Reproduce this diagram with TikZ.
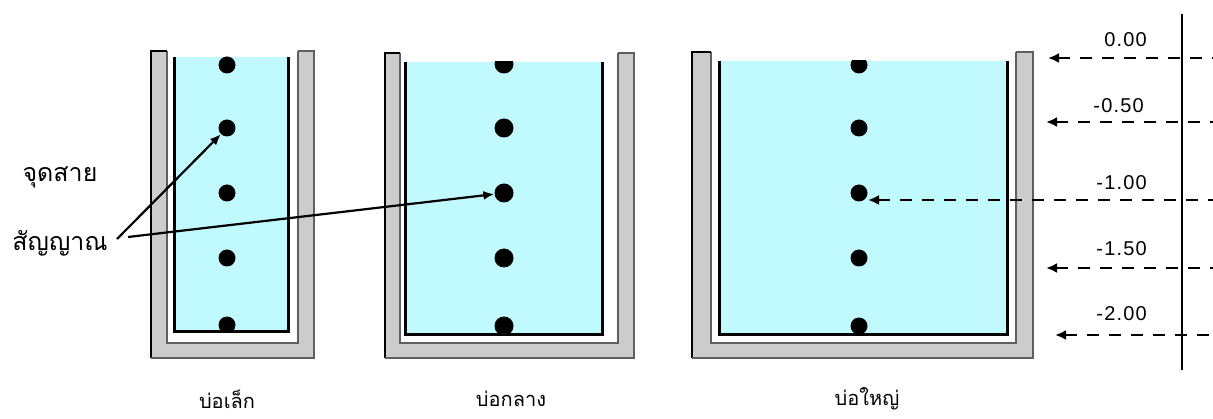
\documentclass[tikz,border=0pt]{standalone}
\usepackage{fontspec}
\setmainfont{Liberation Sans}
\newfontfamily\thaifont[Script=Thai]{Loma}
\usetikzlibrary{arrows.meta}
\definecolor{water}{RGB}{192,250,255}
\definecolor{wallc}{RGB}{204,204,204}
\definecolor{walldark}{RGB}{95,95,95}
\begin{document}
\begin{tikzpicture}[x=1pt,y=-1pt,
  dotn/.style={circle,fill=black,inner sep=0pt,minimum size=17pt},
  bigdot/.style={circle,fill=black,inner sep=0pt,minimum size=19pt},
  lbl/.style={font=\thaifont\fontsize{25}{27}\selectfont,inner sep=0pt},
  tanklbl/.style={font=\thaifont\fontsize{20}{22}\selectfont,inner sep=0pt},
  lvl/.style={font=\addfontfeatures{LetterSpace=6}\fontsize{20}{22}\selectfont,inner sep=0pt,anchor=east},
  arr/.style={line width=2.2pt,-{Latex[length=11pt,width=9pt]}},
  lev/.style={line width=2.4pt,dash pattern=on 12pt off 10pt,{Latex[length=11pt,width=10pt]}-}]
\useasboundingbox (0,0) rectangle (1213,419);
% tanks: L/R/T/B outer, wl/wr/wb wall inner, cl/cr/cb container, wt water top
\foreach \L/\R/\T/\B/\wl/\wr/\wb/\cl/\cr/\cb/\wt in
  {151/314/51/358/167/298/343/174/288/332/57,
   385/634/53/358/400/618/343/405/602/335/62,
   692/1033/52/358/711/1016/343/719/1007/335/61}{
  \fill[wallc] (\L,\T) rectangle (\R,\B);
  \fill[white] (\wl,\T) rectangle (\wr,\wb);
  \draw[walldark,line width=2.5pt] (\wl,\T) -- (\wl,\wb) -- (\wr,\wb) -- (\wr,\T);
  \draw[black,line width=2.5pt] (\wl,\T) -- (\L,\T) -- (\L,\B);
  \draw[walldark,line width=2.5pt] (\L,\B) -- (\R,\B) -- (\R,\T) -- (\wr,\T);
  \fill[water] (\cl,\wt) rectangle (\cr,\cb);
}
% dots
\begin{scope}
\clip (174,57) rectangle (288,332);
\node[dotn] (d11) at (227,65) {};
\node[dotn] (d12) at (227,128) {};
\node[dotn] (d13) at (227,193) {};
\node[dotn] (d14) at (227,258) {};
\node[dotn] (d15) at (227,325) {};
\end{scope}
\begin{scope}
\clip (405,62) rectangle (602,335);
\node[bigdot] (d21) at (504,64) {};
\node[bigdot] (d22) at (504,128) {};
\node[bigdot] (d23) at (504,193) {};
\node[bigdot] (d24) at (504,258) {};
\node[bigdot] (d25) at (504,326) {};
\end{scope}
\begin{scope}
\clip (719,61) rectangle (1007,335);
\node[dotn] (d31) at (859,65) {};
\node[dotn] (d32) at (859,128) {};
\node[dotn] (d33) at (859,193) {};
\node[dotn] (d34) at (859,258) {};
\node[dotn] (d35) at (859,326) {};
\end{scope}
% container black lines on top
\foreach \cl/\cr/\cb/\wt in {174/288/332/57, 405/602/335/62, 719/1007/335/61}{
  \draw[black,line width=3pt] (\cl,\wt) -- (\cl,\cb) -- (\cr,\cb) -- (\cr,\wt);
}
% left labels
\node[lbl] (pt) at (60,177) {จุดสาย};
\node[lbl] (sig) at (60,243) {สัญญาณ};
\coordinate (s1) at (117,239);
\coordinate (s2) at (128,237);
\draw[arr] (s1) -- (d12);
\draw[arr] (s2) -- (d23);
% tank labels
\node[tanklbl] (t1) at (227,399) {บ่อเล็ก};
\node[tanklbl] (t2) at (511,399) {บ่อกลาง};
\node[tanklbl] (t3) at (867,399) {บ่อใหญ่};
% level scale
\coordinate (vt) at (1182,14);
\coordinate (vb) at (1182,370);
\draw[line width=2.4pt] (vt) -- (vb);
\coordinate (a0) at (1048,58);  \coordinate (b0) at (1213,58);
\coordinate (a1) at (1046,122); \coordinate (b1) at (1213,122);
\coordinate (a2) at (868,200);  \coordinate (b2) at (1213,200);
\coordinate (a3) at (1046,268); \coordinate (b3) at (1213,268);
\coordinate (a4) at (1055,335); \coordinate (b4) at (1213,335);
\foreach \i in {0,1,2,3,4}{\draw[lev] (a\i) -- (b\i);}
\node[lvl] (l0) at (1147,40) {0.00};
\node[lvl] (l1) at (1144,106) {-0.50};
\node[lvl] (l2) at (1147,183) {-1.00};
\node[lvl] (l3) at (1147,249) {-1.50};
\node[lvl] (l4) at (1147,314) {-2.00};
\end{tikzpicture}
\end{document}
